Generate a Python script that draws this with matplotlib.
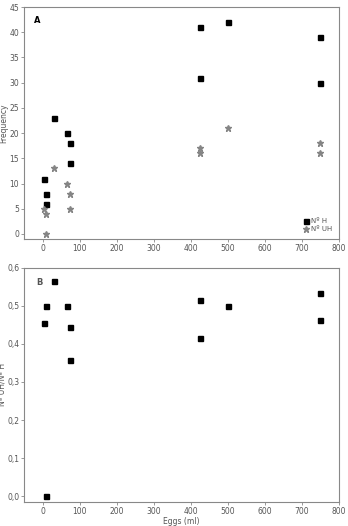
import numpy as np
from matplotlib import pyplot as plt

# eggs volume (ml) for each sample
eggs = [5, 10, 10, 30, 65, 75, 75, 425, 425, 500, 750, 750]
# number hatched / unhatched
n_h = [11, 8, 6, 23, 20, 18, 14, 41, 31, 42, 39, 30]
n_uh = [5, 4, 0, 13, 10, 8, 5, 17, 16, 21, 18, 16]
# ratio UH/H
ratio = [0.455, 0.5, 0.0, 0.565, 0.5, 0.444, 0.357, 0.415, 0.516, 0.5, 0.462, 0.533]

xticks = [0, 100, 200, 300, 400, 500, 600, 700, 800]
yticks_a = [0, 5, 10, 15, 20, 25, 30, 35, 40, 45]
yticks_b = [0.0, 0.1, 0.2, 0.3, 0.4, 0.5, 0.6]

plt.rcParams.update({'font.size': 5.5, 'font.family': 'DejaVu Sans'})
grey = '#555555'

fig = plt.figure(figsize=(3.48, 5.26), dpi=100)
ax1 = fig.add_axes([0.069, 0.5456, 0.905, 0.441])
ax2 = fig.add_axes([0.069, 0.0456, 0.905, 0.4455])

def style(ax):
    for s in ax.spines.values():
        s.set_color('#888888')
        s.set_linewidth(0.8)
    ax.tick_params(direction='out', length=2, width=0.6, colors='#888888',
                   labelcolor=grey, labelsize=5.5, pad=1.5)
    ax.set_xlim(-50, 800)
    ax.set_xticks(xticks)

# panel A
ax1.plot(eggs, n_h, 's', color='black', markersize=3.6, label='Nº H')
ax1.plot(eggs, n_uh, '*', color='#858585', markersize=5, label='Nº UH')
style(ax1)
ax1.set_ylim(-1, 45)
ax1.set_yticks(yticks_a)
ax1.set_ylabel('Frequency', color=grey, fontsize=5.5, labelpad=0.5)
ax1.text(0.03, 0.94, 'A', transform=ax1.transAxes, fontweight='bold',
         fontsize=6, va='center')
leg = ax1.legend(loc='lower right', frameon=False, fontsize=5,
                 handletextpad=0.2, borderaxespad=0.6, labelspacing=0.3,
                 handlelength=1)
for t in leg.get_texts():
    t.set_color(grey)

# panel B
ax2.plot(eggs, ratio, 's', color='black', markersize=3.6)
style(ax2)
ax2.set_ylim(-0.015, 0.6)
ax2.set_yticks(yticks_b)
ax2.set_yticklabels([('%.1f' % v).replace('.', ',') for v in yticks_b])
ax2.set_ylabel('Nº UH/Nº H', color=grey, fontsize=5.5, labelpad=0.5)
ax2.set_xlabel('Eggs (ml)', color=grey, fontsize=5.5, labelpad=1)
ax2.text(0.04, 0.935, 'B', transform=ax2.transAxes, fontweight='bold',
         fontsize=6, va='center', color=grey)

fig.savefig('out.png', dpi=100)
